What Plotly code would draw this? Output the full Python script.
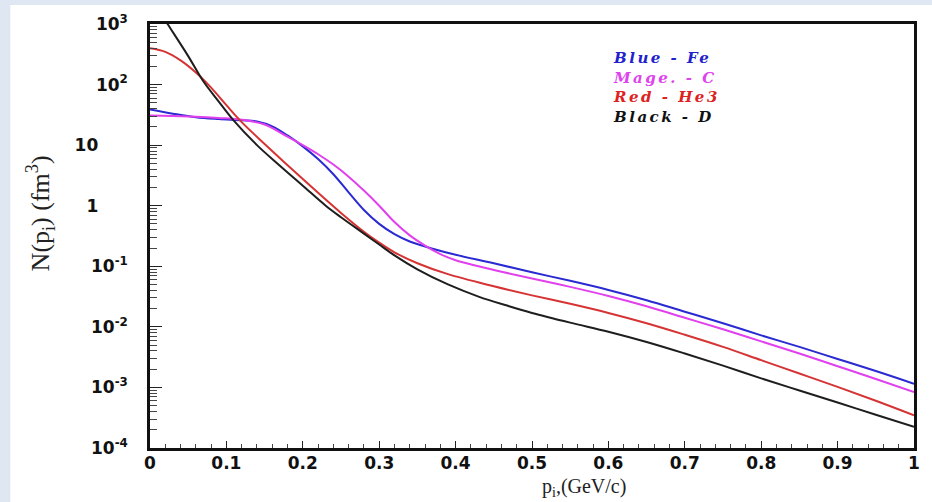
import plotly.graph_objects as go

# momentum p_i (GeV/c) and log10 N(p_i)
p_fe = [0, 0.03, 0.06, 0.09, 0.12, 0.14, 0.16, 0.18, 0.2, 0.22, 0.24, 0.26, 0.28, 0.3, 0.32, 0.34, 0.37, 0.4, 0.45, 0.5, 0.55, 0.6, 0.65, 0.7, 0.75, 0.8, 0.85, 0.9, 0.95, 1.0]
lg_fe = [1.59, 1.52, 1.46, 1.43, 1.41, 1.39, 1.31, 1.16, 0.98, 0.77, 0.52, 0.22, -0.07, -0.30, -0.47, -0.59, -0.71, -0.81, -0.95, -1.10, -1.24, -1.39, -1.56, -1.75, -1.94, -2.14, -2.33, -2.53, -2.73, -2.94]

p_c = [0, 0.03, 0.06, 0.09, 0.12, 0.15, 0.18, 0.2, 0.22, 0.24, 0.26, 0.28, 0.3, 0.32, 0.34, 0.36, 0.38, 0.4, 0.43, 0.46, 0.5, 0.55, 0.6, 0.65, 0.7, 0.75, 0.8, 0.85, 0.9, 0.95, 1.0]
lg_c = [1.49, 1.48, 1.47, 1.45, 1.42, 1.34, 1.14, 1.00, 0.85, 0.68, 0.48, 0.25, 0.0, -0.27, -0.49, -0.66, -0.80, -0.90, -1.00, -1.09, -1.20, -1.34, -1.49, -1.66, -1.85, -2.04, -2.24, -2.44, -2.65, -2.86, -3.075]

p_he3 = [0, 0.02, 0.04, 0.06, 0.08, 0.1, 0.12, 0.15, 0.2, 0.25, 0.28, 0.3, 0.32, 0.35, 0.39, 0.45, 0.5, 0.55, 0.6, 0.65, 0.7, 0.75, 0.8, 0.85, 0.9, 0.95, 1.0]
lg_he3 = [2.60, 2.54, 2.40, 2.20, 1.95, 1.66, 1.38, 1.02, 0.44, -0.12, -0.43, -0.61, -0.77, -0.95, -1.13, -1.33, -1.48, -1.62, -1.77, -1.94, -2.13, -2.33, -2.55, -2.77, -2.99, -3.22, -3.46]

p_d = [0, 0.023, 0.05, 0.07, 0.09, 0.11, 0.14, 0.17, 0.2, 0.23, 0.25, 0.28, 0.3, 0.32, 0.35, 0.39, 0.43, 0.47, 0.5, 0.55, 0.6, 0.65, 0.7, 0.75, 0.8, 0.85, 0.9, 0.95, 1.0]
lg_d = [3.45, 3.0, 2.47, 2.05, 1.72, 1.40, 1.00, 0.66, 0.33, 0.0, -0.19, -0.46, -0.64, -0.82, -1.05, -1.30, -1.50, -1.66, -1.77, -1.93, -2.08, -2.25, -2.44, -2.64, -2.85, -3.05, -3.25, -3.45, -3.65]

series = [
    ("Fe", p_fe, lg_fe, "#2a2ad2"),
    ("C", p_c, lg_c, "#e040ee"),
    ("He3", p_he3, lg_he3, "#d63434"),
    ("D", p_d, lg_d, "#1e1e1e"),
]

legend_lines = ["Blue - Fe", "Mage. - C", "Red - He3", "Black - D"]
legend_colors = ["#2222cc", "#dd44ee", "#dd2222", "#111111"]

x_ticks = [0, 0.1, 0.2, 0.3, 0.4, 0.5, 0.6, 0.7, 0.8, 0.9, 1]
x_ticktext = ["0", "0.1", "0.2", "0.3", "0.4", "0.5", "0.6", "0.7", "0.8", "0.9", "1"]
y_ticks = [1e3, 1e2, 1e1, 1, 1e-1, 1e-2, 1e-3, 1e-4]
y_ticktext = ["10<sup>3</sup>", "10<sup>2</sup>", "10&#160;&#160;&#160;&#160;&#160;", "1&#160;&#160;&#160;&#160;&#160;",
              "10<sup>-1</sup>", "10<sup>-2</sup>", "10<sup>-3</sup>", "10<sup>-4</sup>"]

fig = go.Figure()
for name, px, lg, col in series:
    fig.add_trace(go.Scatter(
        x=px, y=[10 ** v for v in lg], mode="lines", name=name,
        line=dict(color=col, width=2, shape="spline", smoothing=1.0),
        showlegend=False, hoverinfo="skip"))

W, H = 932, 502
L, R, T, B = 150, 16, 22, 54
pw, ph = W - L - R, H - T - B

def px2paper_x(x):
    return (x - L) / pw

def px2paper_y(y):
    return (H - B - y) / ph

# white panel over light blue page
fig.add_shape(type="rect", xref="paper", yref="paper",
              x0=px2paper_x(10), x1=px2paper_x(940), y0=px2paper_y(510), y1=px2paper_y(3),
              fillcolor="white", line=dict(width=0), layer="below")

legend_text = "<br>".join(
    "<span style='color:%s;letter-spacing:2.5px'><b><i>%s</i></b></span>" % (c, t)
    for t, c in zip(legend_lines, legend_colors))

ann = [
    dict(xref="paper", yref="paper", x=px2paper_x(612), y=px2paper_y(86),
         text=legend_text, showarrow=False, xanchor="left", yanchor="middle", align="left",
         font=dict(family="DejaVu Serif", size=15, color="#111")),
    dict(xref="paper", yref="paper", x=px2paper_x(40), y=px2paper_y(212),
         text="N(p<sub>i</sub>) (fm<sup>3</sup>)", textangle=-90, showarrow=False,
         xanchor="center", yanchor="middle",
         font=dict(family="Liberation Serif", size=26, color="#222")),
    dict(xref="paper", yref="paper", x=px2paper_x(585), y=px2paper_y(488),
         text="p<sub>i</sub>,(GeV/c)", showarrow=False,
         xanchor="center", yanchor="middle",
         font=dict(family="Liberation Serif", size=20, color="#222")),
]

fig.update_layout(
    width=W, height=H,
    margin=dict(l=L, r=R, t=T, b=B, pad=0),
    paper_bgcolor="#dfe7f2", plot_bgcolor="white",
    annotations=ann,
    xaxis=dict(range=[0, 1], tickmode="array", tickvals=x_ticks, ticktext=x_ticktext,
               ticks="inside", ticklen=7, tickwidth=1.2, tickcolor="#222",
               showline=True, linecolor="#111", linewidth=2.5, mirror=True,
               showgrid=False, zeroline=False,
               minor=dict(ticks="inside", ticklen=4, tickcolor="#444", dtick=0.02, tick0=0, showgrid=False),
               tickfont=dict(family="DejaVu Sans", size=17, color="#111", weight="bold"),
               ticklabelstandoff=-2),
    yaxis=dict(type="log", range=[-4, 3], tickmode="array", tickvals=y_ticks, ticktext=y_ticktext,
               ticks="inside", ticklen=12, tickwidth=1.2, tickcolor="#222",
               showline=True, linecolor="#111", linewidth=2.5, mirror=True,
               showgrid=False, zeroline=False,
               minor=dict(ticks="inside", ticklen=7, tickcolor="#444", dtick="D1", showgrid=False),
               tickfont=dict(family="DejaVu Sans", size=17, color="#111", weight="bold"),
               ticklabelstandoff=16),
)

fig.write_html("out.html")
